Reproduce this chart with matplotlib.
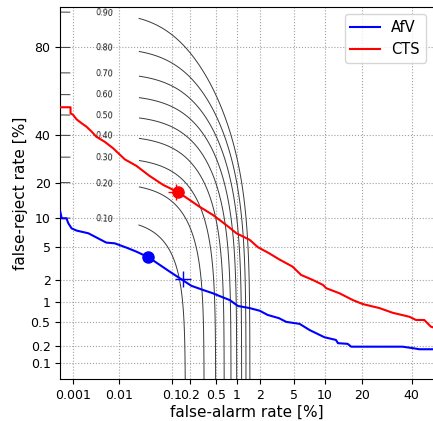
import math
import numpy as np
import matplotlib
matplotlib.use("Agg")
import matplotlib.pyplot as plt

# ---------------- data (percent) ----------------
afv_fa = [0.0005, 0.00054, 0.0007, 0.00077, 0.00092, 0.0012, 0.0022, 0.0039, 0.0054, 0.0081,
          0.014, 0.022, 0.037, 0.06, 0.09, 0.143, 0.21, 0.32, 0.455, 0.57, 0.80, 1.04, 1.49,
          2.0, 2.5, 3.4, 4.1, 5.7, 7.2, 8.6, 9.9, 12.5, 13.0, 15.6, 16.6, 35.9, 40.5, 43.6, 50.0]
afv_fr = [11.4, 9.9, 9.9, 8.9, 7.9, 7.5, 7.04, 6.1, 5.6, 5.5,
          4.93, 4.44, 3.83, 3.1, 2.56, 2.04, 1.67, 1.47, 1.32, 1.21, 1.06, 0.87, 0.81,
          0.74, 0.64, 0.57, 0.50, 0.465, 0.37, 0.32, 0.283, 0.255, 0.225, 0.219, 0.196, 0.196, 0.185, 0.177, 0.177]

cts_fa = [0.0005, 0.00087, 0.00087, 0.001, 0.0012, 0.00155, 0.002, 0.0026, 0.0033, 0.005,
          0.0075, 0.013, 0.022, 0.039, 0.069, 0.126, 0.196, 0.28, 0.455, 0.57, 0.75, 0.99,
          1.49, 1.9, 2.6, 3.4, 4.8, 5.9, 7.7, 9.6, 10.3, 13.4, 17.1, 20.2, 26.3, 31.6, 39.0,
          42.0, 45.9, 49.0, 50.0]
cts_fr = [53.8, 53.8, 50.8, 50.0, 47.8, 45.9, 44.2, 41.8, 39.3, 36.9,
          33.9, 29.0, 26.3, 22.4, 19.2, 16.8, 14.5, 12.7, 10.65, 9.56, 8.3, 7.04,
          6.0, 4.98, 4.26, 3.62, 2.95, 2.32, 2.0, 1.72, 1.55, 1.32, 1.06, 0.93, 0.81, 0.69, 0.60,
          0.535, 0.535, 0.42, 0.41]

afv_min = (0.037, 3.83)
afv_cross = (0.15, 2.04)
cts_min = (0.126, 16.8)
cts_cross = (0.117, 17.0)

series_names = ["AfV", "CTS"]
cost_levels = [0.10, 0.20, 0.30, 0.40, 0.50, 0.60, 0.70, 0.80, 0.90]
fa_weight = 60.0

x_ticks = [0.001, 0.01, 0.1, 0.2, 0.5, 1, 2, 5, 10, 20, 40]
x_tick_labels = ["0.001", "0.01", "0.1", "0.2", "0.5", "1", "2", "5", "10", "20", "40"]
y_ticks = [0.1, 0.2, 0.5, 1, 2, 5, 10, 20, 40, 80]
y_tick_labels = ["0.1", "0.2", "0.5", "1", "2", "5", "10", "20", "40", "80"]


# ---------------- probit helpers ----------------
def _ppf(p):
    p = np.asarray(p, dtype=float)
    shape = p.shape
    p = np.clip(p.ravel(), 1e-15, 1 - 1e-15)
    a = [-3.969683028665376e+01, 2.209460984245205e+02, -2.759285104469687e+02,
         1.383577518672690e+02, -3.066479806614716e+01, 2.506628277459239e+00]
    b = [-5.447609879822406e+01, 1.615858368580409e+02, -1.556989798598866e+02,
         6.680131188771972e+01, -1.328068155288572e+01]
    c = [-7.784894002430293e-03, -3.223964580411365e-01, -2.400758277161838e+00,
         -2.549732539343734e+00, 4.374664141464968e+00, 2.938163982698783e+00]
    d = [7.784695709041462e-03, 3.224671290700398e-01, 2.445134137142996e+00,
         3.754408661907416e+00]
    plow = 0.02425
    x = np.empty_like(p)
    lo = p < plow
    hi = p > 1 - plow
    mid = ~(lo | hi)
    q = np.sqrt(-2 * np.log(p[lo]))
    x[lo] = (((((c[0]*q+c[1])*q+c[2])*q+c[3])*q+c[4])*q+c[5]) / ((((d[0]*q+d[1])*q+d[2])*q+d[3])*q+1)
    q = np.sqrt(-2 * np.log(1 - p[hi]))
    x[hi] = -(((((c[0]*q+c[1])*q+c[2])*q+c[3])*q+c[4])*q+c[5]) / ((((d[0]*q+d[1])*q+d[2])*q+d[3])*q+1)
    q = p[mid] - 0.5
    r = q * q
    x[mid] = (((((a[0]*r+a[1])*r+a[2])*r+a[3])*r+a[4])*r+a[5])*q / (((((b[0]*r+b[1])*r+b[2])*r+b[3])*r+b[4])*r+1)
    return x.reshape(shape)


_erfc = np.vectorize(math.erfc, otypes=[float])


def _cdf(z):
    z = np.asarray(z, dtype=float)
    return 0.5 * _erfc(-z / math.sqrt(2.0))


def fwd(v):
    return _ppf(np.asarray(v, dtype=float) / 100.0)


def inv(v):
    return 100.0 * _cdf(v)


# ---------------- figure ----------------
fig = plt.figure(figsize=(4.33, 4.21), dpi=100)
ax = fig.add_axes([60.3 / 433, 41.7 / 421, (433 - 60.3) / 433, (379.3 - 6.7) / 421])
ax.set_xscale("function", functions=(fwd, inv))
ax.set_yscale("function", functions=(fwd, inv))

# iso-cost contours
gx = np.linspace(-4.8, 0.3, 400)
gy = np.linspace(-3.6, 1.7, 400)
GX, GY = np.meshgrid(gx, gy)
Z = _cdf(GY) + fa_weight * _cdf(GX)
FA = 100 * _cdf(GX)
FR = 100 * _cdf(GY)
cs = ax.contour(FA, FR, Z, levels=cost_levels, colors="#3a3a3a", linewidths=0.7, zorder=2)
ax.clabel(cs, fmt="%.2f", fontsize=5.8, inline=True, inline_spacing=21, colors="#1a1a1a",
          manual=[(0.005, lev * 100) for lev in cost_levels])

ax.plot(afv_fa, afv_fr, color="#0000ff", lw=1.5, label=series_names[0], zorder=4)
ax.plot(cts_fa, cts_fr, color="#ff0000", lw=1.5, label=series_names[1], zorder=4)
ax.plot([afv_min[0]], [afv_min[1]], "o", color="#0000ff", ms=8, zorder=5)
ax.plot([cts_min[0]], [cts_min[1]], "o", color="#ff0000", ms=8, zorder=5)
ax.plot([afv_cross[0]], [afv_cross[1]], "+", color="#0000ff", ms=12, mew=1.0, zorder=5)
ax.plot([cts_cross[0]], [cts_cross[1]], "+", color="#ff0000", ms=12, mew=1.0, zorder=3)

ax.set_xlim(0.0005, 50.0)
ax.set_ylim(0.05, 91.1)
ax.set_xticks(x_ticks, x_tick_labels)
ax.set_yticks(y_ticks, y_tick_labels)
ax.minorticks_off()
ax.tick_params(labelsize=9, length=3.5, direction="out")
ax.grid(True, linestyle=":", color="#a0a0a0", linewidth=0.8)
ax.spines["right"].set_visible(False)

ax.set_xlabel("false-alarm rate [%]", fontsize=11, labelpad=2)
ax.set_ylabel("false-reject rate [%]", fontsize=11, labelpad=2)
ax.legend(loc="upper right", fontsize=10.5)

fig.savefig("out.png", dpi=100)
